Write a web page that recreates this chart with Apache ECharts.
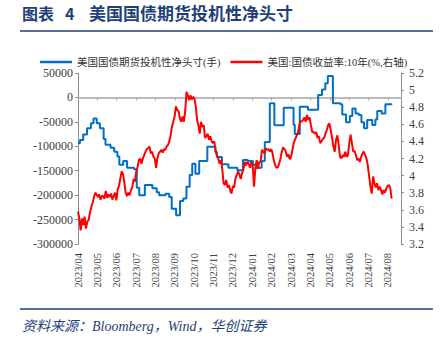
<!DOCTYPE html>
<html><head><meta charset="utf-8">
<script src="https://cdn.jsdelivr.net/npm/echarts@6/dist/echarts.min.js"></script>
<style>html,body{margin:0;padding:0;background:#fff}#c{width:446px;height:341px}</style>
</head><body><div id="c"></div>
<script>
// ---- data ----
const monthLabels = ['2023/04','2023/05','2023/06','2023/07','2023/08','2023/09','2023/10','2023/11','2023/12',
  '2024/01','2024/02','2024/03','2024/04','2024/05','2024/06','2024/07','2024/08'];
const axisStart = '2023-04-01';
const axisEnd = '2024-08-22';

// CFTC speculative net position (contracts), weekly step values
const blueDates = ['2023-04-01','2023-04-04','2023-04-09','2023-04-15','2023-04-21','2023-04-25','2023-04-30',
  '2023-05-05','2023-05-11','2023-05-14','2023-05-22','2023-05-28','2023-06-02','2023-06-05','2023-06-11',
  '2023-06-17','2023-06-28','2023-07-02','2023-07-06','2023-07-15','2023-07-27','2023-08-03','2023-08-07',
  '2023-08-17','2023-08-23','2023-08-27','2023-09-03','2023-09-09','2023-09-14','2023-09-19','2023-09-24',
  '2023-09-28','2023-10-03','2023-10-09','2023-10-22','2023-11-04','2023-11-06','2023-11-14','2023-11-24',
  '2023-12-08','2023-12-17','2023-12-25','2024-01-02','2024-01-07','2024-01-16','2024-01-21','2024-01-29',
  '2024-02-05','2024-02-19','2024-03-05','2024-03-07','2024-03-15','2024-03-28','2024-04-13','2024-04-19',
  '2024-04-24','2024-04-28','2024-05-06','2024-05-18','2024-05-21','2024-05-27','2024-06-02','2024-06-06',
  '2024-06-11','2024-06-16','2024-06-20','2024-06-24','2024-06-29','2024-07-07','2024-07-12','2024-07-15',
  '2024-07-22','2024-07-28','2024-08-08'];
const blueValues = [-94000,-87000,-76000,-63000,-53000,-43000,-53000,
  -63000,-85000,-97000,-103000,-111000,-121000,-138000,-130000,
  -144000,-147000,-185000,-200000,-179000,-186000,-194000,-200000,
  -197000,-204000,-228000,-241000,-212000,-207000,-183000,-159000,
  -136000,-156000,-130000,-101000,-111000,-122000,-137000,-144000,
  -149000,-128000,-130000,-138000,-144000,-130000,-91000,-12000,
  -57000,-21000,-56000,-75000,-19000,-25000,5000,16000,
  29000,44000,-12000,-14000,-35000,-51000,-38000,-22500,
  -33000,-36000,-51000,-63000,-46000,-56500,-45000,-28000,
  -33000,-14000,-14000];

// US 10Y Treasury yield (%), sampled roughly every two days
const redStart = '2023-04-01';
const redEnd = '2024-08-07';
const redValues = [
  3.58,3.50,3.36,3.50,3.42,3.52,3.38,3.46,3.48,3.56,3.63,3.68,3.74,3.80,3.78,3.75,3.78,3.72,3.76,3.76,
  3.73,3.82,3.74,3.78,3.75,3.79,3.72,3.76,3.80,3.71,3.84,3.88,3.97,4.05,4.02,3.92,3.80,3.76,3.80,3.77,
  3.83,3.86,3.96,3.93,4.04,4.10,4.18,
  4.20,4.14,4.20,4.24,4.28,4.31,4.32,4.34,4.26,4.28,4.22,4.20,4.09,4.20,4.26,4.28,4.30,4.27,4.31,4.30,
  4.34,4.36,4.40,4.47,4.57,4.63,4.69,4.81,4.77,4.75,4.67,4.63,4.69,4.63,4.75,4.98,4.94,4.88,4.94,4.89,
  4.92,4.90,4.81,4.65,4.59,4.49,4.63,
  4.57,4.59,4.44,4.46,4.49,4.42,4.46,4.40,4.38,4.40,4.28,4.24,4.20,4.14,4.18,4.08,3.91,3.89,3.95,3.86,
  3.89,3.83,3.79,3.88,3.86,3.97,4.01,4.05,4.01,3.96,4.03,4.07,4.16,4.12,4.16,4.14,4.09,4.16,4.12,3.87,
  4.08,4.18,4.08,4.16,4.16,4.30,4.28,
  4.26,4.32,4.30,4.31,4.28,4.31,4.26,4.18,4.12,4.09,4.10,4.14,4.20,4.28,4.33,4.31,4.28,4.22,4.25,4.19,
  4.22,4.30,4.38,4.42,4.46,4.49,4.57,4.64,4.63,4.65,4.68,4.63,4.71,4.65,4.68,4.59,4.51,4.51,4.49,4.51,
  4.44,4.46,4.38,4.40,4.43,4.44,4.49,
  4.53,4.59,4.61,4.53,4.44,4.34,4.28,4.42,4.47,4.36,4.22,4.20,4.24,4.22,4.28,4.22,4.24,4.38,4.48,4.38,
  4.28,4.29,4.24,4.18,4.20,4.16,4.22,4.26,4.28,4.24,4.20,4.12,3.99,3.87,3.79,3.99,3.91,3.86,3.91,3.83,
  3.87,3.83,3.78,3.83,3.80,3.85,3.88,3.89,3.85,3.73];

const leftAxis = {min:-300000, max:50000, step:50000};
const rightAxis = {min:3.2, max:5.2, step:0.2};
const seriesNames = ['美国国债期货投机性净头寸(手)', '美国:国债收益率:10年(%,右轴)'];

// ---- helpers ----
function toM(s){
  const p = s.split('-').map(Number);
  const dim = new Date(p[0], p[1], 0).getDate();
  return (p[0]-2023)*12 + (p[1]-4) + (p[2]-1)/dim;
}
const xMin = toM(axisStart), xMax = toM(axisEnd);
const blueData = blueDates.map((d,i)=>[toM(d), blueValues[i]]);
const r0 = toM(redStart), r1 = toM(redEnd);
const redData = redValues.map((v,i)=>[r0 + i*(r1-r0)/(redValues.length-1), v]);

const NAVY = '#1f3f7a';
const serifOnly = '"Liberation Serif","Times New Roman"';
const serif = serifOnly + ',serif';
const cjk = '"Noto Sans CJK SC",sans-serif';
const mixed = serifOnly + ',' + cjk;
const labelColor = '#404040';
const axisGray = '#8c8c8c';

const chart = echarts.init(document.getElementById('c'), null, {renderer:'svg'});
chart.setOption({
  animation:false,
  backgroundColor:'#fff',
  graphic:[
    {type:'text', left:22, top:5, style:{text:'图表', font:'bold 16px '+cjk, fill:NAVY}},
    {type:'text', left:65, top:5, style:{text:'4', font:'bold 16px '+cjk, fill:NAVY}},
    {type:'text', left:89, top:4, style:{text:'美国国债期货投机性净头寸', font:'bold 17px '+cjk, fill:NAVY}},
    {type:'line', shape:{x1:20,y1:31,x2:433,y2:31}, style:{stroke:NAVY, lineWidth:1.5}},
    {type:'line', shape:{x1:20,y1:309,x2:433,y2:309}, style:{stroke:NAVY, lineWidth:1.5}},
    {type:'text', left:22, top:319, style:{text:'资料来源：Bloomberg，Wind，华创证券', font:'italic 14px '+mixed, fill:NAVY}}
  ],
  legend:{
    left:40, top:56, padding:0, itemGap:10, itemWidth:32, itemHeight:2.5, icon:'rect',
    textStyle:{fontSize:10.5, lineHeight:12, fontFamily:mixed, color:'#333'},
    data:seriesNames
  },
  grid:{left:78, right:45, top:73, bottom:97, containLabel:false},
  xAxis:[
    {type:'value', min:xMin, max:xMax, interval:1, position:'bottom',
     axisLine:{show:true, onZero:true, onZeroAxisIndex:0, lineStyle:{color:'#a6a6a6', width:1.5}},
     axisTick:{show:true, length:3, lineStyle:{color:'#a6a6a6', width:1}},
     axisLabel:{show:false}, splitLine:{show:false}},
    {type:'value', min:xMin, max:xMax, interval:1, position:'bottom',
     axisLine:{show:false, onZero:false}, axisTick:{show:false}, splitLine:{show:false},
     axisLabel:{rotate:90, margin:9, fontSize:10.5, fontFamily:serif, color:labelColor,
       formatter:v=>{const r=Math.round(v); return Math.abs(v-r)<1e-6 && monthLabels[r] ? monthLabels[r] : '';}}}
  ],
  yAxis:[
    {type:'value', min:leftAxis.min, max:leftAxis.max, interval:leftAxis.step, position:'left',
     axisLine:{show:true, onZero:false, lineStyle:{color:axisGray, width:1}},
     axisTick:{show:true, length:3, lineStyle:{color:axisGray}},
     splitLine:{show:false},
     axisLabel:{margin:5, fontSize:12, fontFamily:serif, color:labelColor, formatter:v=>String(Math.round(v))}},
    {type:'value', min:rightAxis.min, max:rightAxis.max, interval:rightAxis.step, position:'right',
     axisLine:{show:true, onZero:false, lineStyle:{color:axisGray, width:1}},
     axisTick:{show:true, length:3, lineStyle:{color:axisGray}},
     splitLine:{show:false},
     axisLabel:{margin:8, fontSize:12, fontFamily:serif, color:labelColor, formatter:v=>String(+(+v).toFixed(1))}}
  ],
  series:[
    {name:seriesNames[0], type:'line', xAxisIndex:0, yAxisIndex:0, step:'end', symbol:'none', showSymbol:false,
     lineStyle:{color:'#0070c0', width:2}, itemStyle:{color:'#0070c0'}, data:blueData, z:2},
    {name:seriesNames[1], type:'line', xAxisIndex:0, yAxisIndex:1, symbol:'none', showSymbol:false,
     lineStyle:{color:'#ff0000', width:2}, itemStyle:{color:'#ff0000'}, data:redData, z:3}
  ]
});
</script>
</body></html>
